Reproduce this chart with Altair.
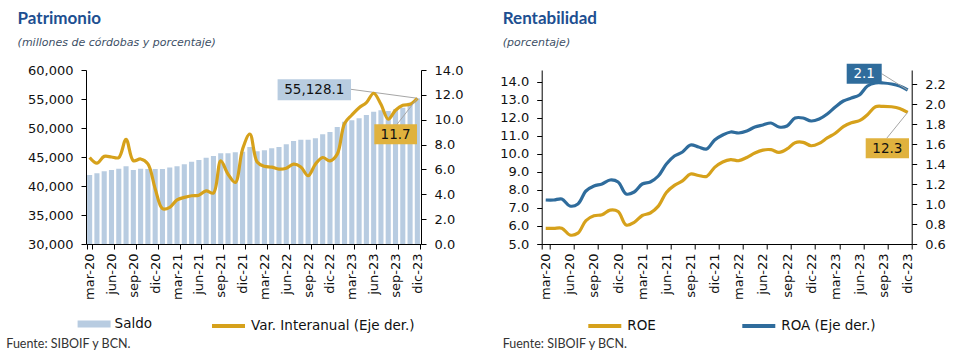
import altair as alt
import pandas as pd

# ---------------- data ----------------
abbr = ["ene", "feb", "mar", "abr", "may", "jun", "jul", "ago", "sep", "oct", "nov", "dic"]
meses = [f"{m}-20" for m in abbr[2:]] + [f"{m}-{y}" for y in ("21", "22", "23") for m in abbr]
trimestres = [m for m in meses if m[:3] in ("mar", "jun", "sep", "dic")]

saldo = [41900, 42180, 42530, 42760, 42990, 43390, 42760, 42990, 42950, 42950,
         42950, 43180, 43390, 43740, 44200, 44480, 44880, 45170, 45630, 45630,
         45800, 45900, 46720, 45990, 46150, 46490, 46720, 47180, 47760, 47990,
         47990, 48220, 48910, 49310, 50170, 51090, 51320, 51670, 52240, 52820,
         53050, 52930, 53220, 53510, 54370, 55128.1]
var_interanual = [6.96, 6.5, 7.05, 7.0, 6.95, 8.43, 6.7, 6.84, 6.45, 4.45,
                  2.85, 2.95, 3.55, 3.75, 3.88, 3.93, 4.28, 4.1, 6.69, 5.62,
                  4.95, 7.63, 8.85, 6.6, 6.25, 6.18, 6.02, 6.1, 6.42, 6.2,
                  5.49, 6.42, 6.96, 6.69, 7.23, 9.7, 10.38, 10.97, 11.37, 12.13,
                  11.24, 10.04, 10.76, 11.16, 11.24, 11.72]
roe = [5.87, 5.87, 5.88, 5.5, 5.6, 6.3, 6.57, 6.62, 6.88, 6.8,
       6.05, 6.2, 6.58, 6.72, 7.1, 7.86, 8.25, 8.5, 8.88, 8.8,
       8.75, 9.25, 9.55, 9.68, 9.62, 9.8, 10.05, 10.21, 10.23, 10.08,
       10.27, 10.62, 10.64, 10.45, 10.58, 10.88, 11.14, 11.51, 11.73, 11.84,
       12.17, 12.61, 12.63, 12.61, 12.52, 12.3]
roa = [1.04, 1.04, 1.05, 0.98, 1.0, 1.13, 1.18, 1.2, 1.24, 1.22,
       1.1, 1.12, 1.2, 1.22, 1.28, 1.4, 1.48, 1.52, 1.59, 1.57,
       1.55, 1.64, 1.69, 1.72, 1.71, 1.73, 1.77, 1.79, 1.81, 1.77,
       1.78, 1.86, 1.86, 1.83, 1.85, 1.9, 1.97, 2.03, 2.06, 2.09,
       2.18, 2.21, 2.21, 2.2, 2.18, 2.14]

ticks_saldo = [30000, 35000, 40000, 45000, 50000, 55000, 60000]
ticks_var = [0, 2, 4, 6, 8, 10, 12, 14]
ticks_roe = [5, 6, 7, 8, 9, 10, 11, 12, 13, 14]
ticks_roa = [0.6, 0.8, 1.0, 1.2, 1.4, 1.6, 1.8, 2.0, 2.2]

df = pd.DataFrame({
    "mes": meses, "saldo": saldo, "var": var_interanual, "roe": roe, "roa": roa,
    "s_saldo": "Saldo", "s_var": "Var. Interanual (Eje der.)",
    "s_roe": "ROE", "s_roa": "ROA (Eje der.)",
})
last = df.iloc[[-1]].reset_index(drop=True)

# ---------------- style ----------------
FONT = "DejaVu Sans"
TFONT = "Lato"
GOLD = "#d6a11b"
BLUE = "#2f6c9c"
BAR = "#b8cce1"
BOX_GOLD = "#e0b23e"
BOX_LIGHT = "#b8cce0"
GRAY = "#a6a6a6"
TITLE_C = "#1d4f91"
TXT = "#111111"
RECT_PATH = "M-1,-0.21L1,-0.21L1,0.21L-1,0.21Z"

W1, W2, H = 335, 370, 174


def x_axis():
    return alt.Axis(values=trimestres, labelAngle=-90, title=None, tickBand="extent",
                    tickSize=5, labelPadding=4, labelFont=FONT, labelFontSize=13,
                    labelColor=TXT, domainColor="#000", tickColor="#000", grid=False,
                    labelOverlap=False)


def y_axis(values, fmt, orient="left"):
    return alt.Axis(values=values, format=fmt, orient=orient, title=None, tickSize=5,
                    labelPadding=8, grid=False, domainColor="#000", tickColor="#000",
                    labelFont=FONT, labelFontSize=13, labelColor=TXT, labelFlush=False,
                    labelOverlap=False)


def legend(x, y, stype, width):
    return alt.Legend(orient="none", legendX=x, legendY=y, title=None, symbolType=stype,
                      symbolSize=1089, symbolStrokeWidth=width, labelFont=FONT,
                      labelFontSize=13.5, labelColor=TXT, labelOffset=4, padding=0,
                      labelLimit=300)


def texto(t, x, y, font, size, weight="normal", style="normal", color=TXT,
          align="left", baseline="alphabetic"):
    return alt.Chart(pd.DataFrame({"t": [t]})).mark_text(
        font=font, fontSize=size, fontWeight=weight, fontStyle=style, color=color,
        align=align, baseline=baseline).encode(text="t:N", x=alt.value(x), y=alt.value(y))


def caja(x1, x2, y1, y2, color):
    return alt.Chart(last).mark_rect(color=color).encode(
        x=alt.value(x1), x2=alt.value(x2), y=alt.value(y1), y2=alt.value(y2))


def etiqueta(field, fmt, x, y, color=TXT):
    return alt.Chart(last).mark_text(font=FONT, fontSize=13.5, color=color, align="center",
                                     baseline="middle").encode(
        text=alt.Text(f"{field}:Q", format=fmt), x=alt.value(x), y=alt.value(y))


# ---------------- left panel: Patrimonio ----------------
xl = alt.X("mes:N", sort=meses, scale=alt.Scale(paddingInner=0.3, paddingOuter=0.15),
           axis=x_axis())
y_saldo = alt.Y("saldo:Q", scale=alt.Scale(domain=[30000, 60000], nice=False, zero=False),
                axis=y_axis(ticks_saldo, ",.0f"))
y_var = alt.Y("var:Q", scale=alt.Scale(domain=[0, 14], nice=False),
              axis=y_axis(ticks_var, ".1f", "right"))

bars = alt.Chart(df).mark_bar(clip=True).encode(
    x=xl, y=y_saldo,
    fill=alt.Fill("s_saldo:N", scale=alt.Scale(range=[BAR]),
                  legend=legend(-8.4, 237.5, RECT_PATH, 0)))
saldo_rule = alt.Chart(last).mark_rule(color=GRAY, strokeWidth=1).encode(
    x=xl, y=y_saldo, x2=alt.value(265), y2=alt.value(19.3))
grp_saldo = alt.layer(bars, saldo_rule, caja(191.6, 265, 9.3, 30.3, BOX_LIGHT),
                      etiqueta("saldo", ",.1f", 228.3, 20))

line_var = alt.Chart(df).mark_line(strokeWidth=3.2, interpolate="catmull-rom").encode(
    x=xl, y=y_var,
    stroke=alt.Stroke("s_var:N", scale=alt.Scale(range=[GOLD]),
                      legend=legend(124, 237.5, "stroke", 4)))
var_rule = alt.Chart(last).mark_rule(color=GRAY, strokeWidth=1).encode(
    x=xl, y=y_var, x2=alt.value(311), y2=alt.value(54.3))
grp_var = alt.layer(line_var, var_rule, caja(288.3, 331, 54.3, 74.3, BOX_GOLD),
                    etiqueta("var", ".1f", 309.6, 64.5))

left = alt.layer(
    grp_saldo, grp_var,
    texto("Patrimonio", -68.4, -46.3, TFONT, 17, weight="bold", color=TITLE_C),
    texto("(millones de córdobas y porcentaje)", -68.4, -24, FONT, 11, style="italic",
          color="#3d4f66"),
    texto("Fuente: SIBOIF y BCN.", -79.7, 278, TFONT, 12.5, color="#333333"),
).resolve_scale(y="independent").properties(width=W1, height=H)

# ---------------- right panel: Rentabilidad ----------------
xr = alt.X("mes:N", sort=meses, scale=alt.Scale(paddingInner=0, paddingOuter=0),
           axis=x_axis())
y_roe = alt.Y("roe:Q", scale=alt.Scale(domain=[5, 14.65], nice=False, zero=False),
              axis=y_axis(ticks_roe, ".1f"))
y_roa = alt.Y("roa:Q", scale=alt.Scale(domain=[0.6, 2.34], nice=False, zero=False),
              axis=y_axis(ticks_roa, ".1f", "right"))

line_roe = alt.Chart(df).mark_line(strokeWidth=3.2, interpolate="catmull-rom").encode(
    x=xr, y=y_roe,
    stroke=alt.Stroke("s_roe:N", scale=alt.Scale(range=[GOLD]),
                      legend=legend(44.6, 237.5, "stroke", 4)))
roe_rule = alt.Chart(last).mark_rule(color=GRAY, strokeWidth=1).encode(
    x=xr, y=y_roe, x2=alt.value(345), y2=alt.value(68.3))
grp_roe = alt.layer(line_roe, roe_rule, caja(324, 367.3, 68.3, 88.3, BOX_GOLD),
                    etiqueta("roe", ".1f", 345.7, 78.5))

line_roa = alt.Chart(df).mark_line(strokeWidth=3.2, interpolate="catmull-rom").encode(
    x=xr, y=y_roa,
    color=alt.Color("s_roa:N", scale=alt.Scale(range=[BLUE]),
                    legend=legend(198.6, 237.5, "stroke", 4)))
roa_rule = alt.Chart(last).mark_rule(color=GRAY, strokeWidth=1).encode(
    x=xr, y=y_roa, x2=alt.value(340), y2=alt.value(3.7))
grp_roa = alt.layer(line_roa, roa_rule, caja(305, 340, -6.3, 13.7, BLUE),
                    etiqueta("roa", ".1f", 322.5, 3.9, color="#ffffff"))

right = alt.layer(
    grp_roe, grp_roa,
    texto("Rentabilidad", -39, -46.3, TFONT, 17, weight="bold", color=TITLE_C),
    texto("(porcentaje)", -39, -24, FONT, 11, style="italic", color="#3d4f66"),
    texto("Fuente: SIBOIF y BCN.", -39, 278, TFONT, 12.5, color="#333333"),
).resolve_scale(y="independent").properties(width=W2, height=H)

chart = alt.hconcat(left, right, spacing=120.7, bounds="flush").resolve_scale(
    fill="independent", stroke="independent", color="independent"
).properties(
    padding={"left": 6, "top": 9, "right": 0, "bottom": 0},
    background="#ffffff",
).configure_view(stroke=None)

chart.save("out.html", embed_options={"renderer": "svg", "actions": False})
